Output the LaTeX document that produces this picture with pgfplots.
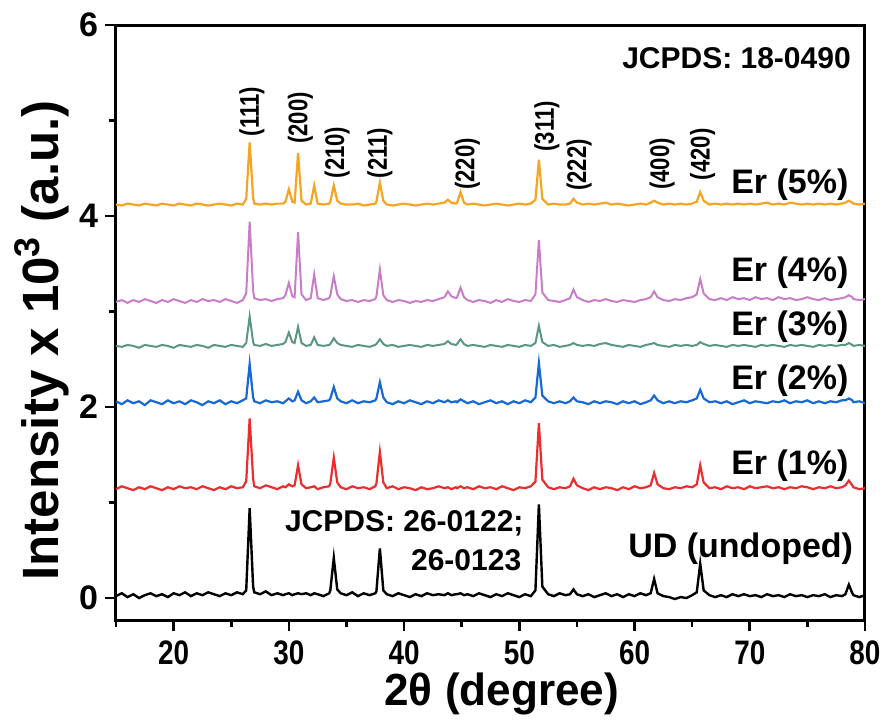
\documentclass[border=0pt]{standalone}
\usepackage{fontspec}
\setmainfont{Liberation Sans}
\newfontfamily\narrowfont{Liberation Sans}[FakeStretch=0.82]
\newfontfamily\axlabfont{Liberation Sans}[FakeStretch=0.98]
\usepackage{pgfplots}
\usepackage{pgfplotstable}
\pgfplotsset{compat=1.18}
\definecolor{cUD}{RGB}{0,0,0}
\definecolor{cEa}{RGB}{235,45,45}
\definecolor{cEb}{RGB}{25,105,210}
\definecolor{cEc}{RGB}{90,150,130}
\definecolor{cEd}{RGB}{200,125,200}
\definecolor{cEe}{RGB}{245,165,35}
\pgfplotstableread{
x ud e1 e2 e3 e4 e5
15.0 0.02 1.14 2.06 2.64 3.10 4.12
15.5 0.05 1.17 2.03 2.63 3.12 4.11
16.0 0.01 1.15 2.07 2.65 3.09 4.13
16.5 0.04 1.13 2.04 2.64 3.12 4.12
17.0 0.00 1.16 2.06 2.62 3.10 4.11
17.5 0.03 1.14 2.02 2.65 3.13 4.13
18.0 0.05 1.17 2.07 2.64 3.11 4.12
18.5 0.02 1.15 2.05 2.63 3.09 4.11
19.0 0.04 1.13 2.03 2.65 3.12 4.13
19.5 0.01 1.16 2.07 2.64 3.10 4.12
20.0 0.05 1.14 2.04 2.62 3.13 4.11
20.5 0.03 1.17 2.06 2.65 3.11 4.13
21.0 0.06 1.15 2.03 2.64 3.09 4.12
21.5 0.02 1.16 2.07 2.63 3.12 4.11
22.0 0.05 1.14 2.05 2.65 3.10 4.13
22.5 0.03 1.17 2.02 2.64 3.13 4.12
23.0 0.06 1.15 2.06 2.62 3.11 4.11
23.5 0.04 1.13 2.04 2.65 3.12 4.12
24.0 0.02 1.16 2.07 2.64 3.10 4.13
24.5 0.05 1.14 2.03 2.63 3.13 4.12
25.0 0.03 1.17 2.06 2.65 3.11 4.11
25.5 0.06 1.15 2.04 2.64 3.09 4.13
26.0 0.04 1.16 2.07 2.63 3.12 4.12
26.3 0.08 1.22 2.09 2.67 3.19 4.18
26.6 0.94 1.88 2.45 2.95 3.94 4.77
26.9 0.12 1.25 2.10 2.68 3.22 4.19
27.0 0.06 1.17 2.06 2.65 3.14 4.13
27.5 0.04 1.15 2.04 2.64 3.12 4.12
28.0 0.07 1.18 2.07 2.66 3.13 4.13
28.5 0.03 1.16 2.05 2.64 3.11 4.12
29.0 0.05 1.14 2.06 2.65 3.13 4.13
29.5 0.03 1.17 2.04 2.66 3.14 4.13
29.7 0.04 1.16 2.06 2.68 3.17 4.15
30.0 0.05 1.19 2.09 2.78 3.30 4.28
30.3 0.03 1.17 2.06 2.68 3.16 4.15
30.5 0.04 1.18 2.07 2.67 3.15 4.14
30.8 0.05 1.39 2.16 2.84 3.83 4.66
31.1 0.04 1.19 2.07 2.67 3.18 4.16
31.5 0.05 1.15 2.04 2.64 3.12 4.12
31.9 0.03 1.16 2.06 2.65 3.14 4.13
32.2 0.05 1.17 2.10 2.73 3.39 4.32
32.5 0.04 1.14 2.05 2.65 3.14 4.13
33.0 0.02 1.16 2.06 2.64 3.12 4.12
33.5 0.05 1.17 2.07 2.65 3.14 4.13
33.6 0.08 1.20 2.09 2.66 3.17 4.15
33.9 0.42 1.47 2.21 2.72 3.37 4.32
34.2 0.09 1.21 2.09 2.67 3.18 4.16
34.5 0.05 1.16 2.06 2.65 3.13 4.13
35.0 0.03 1.14 2.04 2.64 3.11 4.12
35.5 0.06 1.17 2.07 2.63 3.12 4.12
36.0 0.02 1.15 2.04 2.65 3.10 4.13
36.5 0.05 1.16 2.06 2.64 3.12 4.11
37.0 0.03 1.14 2.05 2.63 3.11 4.12
37.5 0.05 1.17 2.07 2.65 3.13 4.13
37.6 0.07 1.20 2.09 2.66 3.16 4.15
37.9 0.52 1.53 2.26 2.71 3.44 4.35
38.2 0.08 1.21 2.10 2.66 3.17 4.16
38.5 0.04 1.15 2.05 2.64 3.12 4.12
39.0 0.02 1.17 2.03 2.65 3.10 4.11
39.5 0.05 1.14 2.06 2.63 3.12 4.12
40.0 0.03 1.16 2.04 2.64 3.11 4.13
40.5 0.01 1.15 2.07 2.65 3.09 4.12
41.0 0.04 1.13 2.05 2.64 3.11 4.11
41.5 0.02 1.16 2.03 2.63 3.10 4.12
42.0 0.05 1.14 2.06 2.65 3.12 4.13
42.5 0.03 1.15 2.04 2.64 3.11 4.12
43.0 0.04 1.17 2.07 2.65 3.13 4.13
43.5 0.03 1.15 2.05 2.66 3.15 4.14
43.8 0.05 1.16 2.07 2.69 3.21 4.17
44.1 0.03 1.14 2.05 2.66 3.16 4.14
44.5 0.04 1.16 2.06 2.65 3.14 4.13
44.6 0.04 1.15 2.05 2.66 3.15 4.14
44.9 0.05 1.17 2.08 2.71 3.25 4.25
45.2 0.03 1.15 2.06 2.66 3.15 4.14
45.5 0.04 1.16 2.04 2.64 3.12 4.12
46.0 0.02 1.14 2.06 2.65 3.10 4.13
46.5 0.05 1.17 2.03 2.64 3.12 4.12
47.0 0.03 1.15 2.05 2.63 3.11 4.11
47.5 0.01 1.16 2.07 2.65 3.09 4.12
48.0 0.04 1.14 2.04 2.64 3.12 4.13
48.5 0.02 1.17 2.06 2.63 3.10 4.12
49.0 0.05 1.15 2.03 2.65 3.13 4.11
49.5 0.03 1.13 2.06 2.64 3.11 4.12
50.0 0.01 1.16 2.04 2.63 3.10 4.13
50.5 0.04 1.15 2.07 2.65 3.12 4.12
51.0 0.02 1.17 2.05 2.64 3.11 4.13
51.4 0.08 1.22 2.10 2.67 3.18 4.17
51.7 0.98 1.83 2.46 2.85 3.75 4.59
52.0 0.12 1.24 2.12 2.68 3.20 4.18
52.5 0.04 1.16 2.06 2.64 3.12 4.12
53.0 0.02 1.14 2.04 2.65 3.11 4.13
53.5 0.05 1.16 2.06 2.63 3.10 4.12
54.0 0.03 1.15 2.04 2.64 3.12 4.12
54.4 0.04 1.17 2.06 2.65 3.14 4.13
54.7 0.09 1.25 2.10 2.67 3.23 4.18
55.0 0.04 1.18 2.06 2.65 3.15 4.14
55.5 0.02 1.15 2.05 2.64 3.12 4.12
56.0 0.04 1.13 2.03 2.65 3.10 4.13
56.5 0.01 1.16 2.06 2.64 3.12 4.12
57.0 0.03 1.14 2.04 2.66 3.11 4.13
57.5 0.05 1.16 2.06 2.67 3.13 4.14
58.0 0.02 1.15 2.05 2.65 3.11 4.12
58.5 0.04 1.13 2.03 2.64 3.10 4.13
59.0 0.01 1.16 2.06 2.63 3.12 4.12
59.5 0.04 1.14 2.04 2.65 3.11 4.11
60.0 0.02 1.17 2.06 2.64 3.10 4.12
60.5 0.05 1.15 2.03 2.63 3.12 4.13
61.0 0.03 1.16 2.05 2.65 3.13 4.12
61.4 0.05 1.18 2.07 2.66 3.15 4.14
61.7 0.20 1.31 2.12 2.67 3.21 4.16
62.0 0.05 1.19 2.07 2.65 3.15 4.14
62.5 0.02 1.15 2.04 2.64 3.12 4.12
63.0 0.01 1.14 2.06 2.63 3.11 4.13
63.5 -0.01 1.16 2.04 2.65 3.13 4.12
64.0 0.01 1.15 2.06 2.64 3.12 4.13
64.5 0.00 1.17 2.05 2.65 3.14 4.12
65.0 0.03 1.16 2.07 2.64 3.15 4.13
65.4 0.06 1.19 2.09 2.65 3.18 4.15
65.7 0.36 1.39 2.18 2.68 3.34 4.25
66.0 0.08 1.21 2.09 2.66 3.19 4.16
66.5 0.03 1.15 2.05 2.64 3.13 4.12
67.0 0.01 1.16 2.06 2.65 3.12 4.13
67.5 0.03 1.14 2.04 2.64 3.14 4.12
68.0 0.01 1.17 2.06 2.63 3.12 4.13
68.5 0.04 1.15 2.03 2.65 3.15 4.12
69.0 0.02 1.16 2.05 2.64 3.13 4.13
69.5 0.04 1.14 2.07 2.65 3.14 4.12
70.0 0.02 1.17 2.04 2.64 3.12 4.13
70.5 0.03 1.15 2.06 2.63 3.15 4.12
71.0 0.01 1.16 2.05 2.65 3.13 4.13
71.5 0.04 1.17 2.04 2.64 3.14 4.14
72.0 0.02 1.15 2.06 2.65 3.12 4.12
72.5 0.03 1.16 2.05 2.64 3.15 4.13
73.0 0.01 1.14 2.07 2.63 3.13 4.12
73.5 0.04 1.16 2.04 2.65 3.14 4.14
74.0 0.02 1.15 2.06 2.64 3.12 4.13
74.5 0.03 1.17 2.05 2.65 3.13 4.12
75.0 0.01 1.16 2.07 2.64 3.15 4.13
75.5 0.03 1.14 2.04 2.63 3.13 4.12
76.0 0.02 1.16 2.06 2.65 3.12 4.13
76.5 0.04 1.15 2.04 2.64 3.14 4.12
77.0 0.01 1.17 2.06 2.65 3.12 4.13
77.5 0.03 1.15 2.05 2.64 3.13 4.12
78.0 0.02 1.16 2.07 2.65 3.14 4.13
78.3 0.04 1.18 2.07 2.65 3.15 4.14
78.6 0.14 1.23 2.09 2.67 3.17 4.16
78.9 0.05 1.18 2.07 2.65 3.15 4.14
79.0 0.03 1.16 2.05 2.64 3.13 4.13
79.5 0.01 1.14 2.06 2.65 3.12 4.12
80.0 0.03 1.15 2.04 2.64 3.13 4.13
}\xrd
\newcommand{\fs}[1]{\fontsize{#1}{#1}\selectfont\bfseries}
\begin{document}
\begin{tikzpicture}
\path[use as bounding box] (-58pt,-52pt) rectangle (386pt,310pt);
\begin{axis}[
  at={(0pt,0pt)}, anchor=south west,
  scale only axis, width=374.5pt, height=297.5pt,
  xmin=15, xmax=80, ymin=-0.23, ymax=6,
  xtick={20,30,...,80}, minor xtick={15,25,...,75},
  ytick={0,2,4,6}, minor ytick={1,3,5},
  xtick pos=bottom, ytick pos=left,
  xtick align=outside, ytick align=outside,
  major tick length=5.5pt, minor tick length=3.5pt,
  tick style={line width=1.3pt, black},
  axis line style={line width=1.5pt},
  /pgf/number format/assume math mode=true,
  xticklabel style={font=\narrowfont\fs{17pt}, inner sep=0pt, yshift=-4.5pt},
  yticklabel style={font=\fs{17pt}},
  xlabel={2θ (degree)},
  xlabel style={font=\axlabfont\fs{22.5pt}, inner sep=0pt, at={(axis description cs:0.515,-0.143)}, anchor=base},
  ylabel={Intensity x 10\textsuperscript{3} (a.u.)},
  ylabel style={font=\fs{25.5pt}, inner sep=0pt, at={(axis description cs:-0.0774,0.47)}, anchor=base},
]
\addplot[cUD, line width=1.2pt] table[x=x,y=ud]{\xrd};
\addplot[cEa, line width=1.1pt] table[x=x,y=e1]{\xrd};
\addplot[cEb, line width=1.1pt] table[x=x,y=e2]{\xrd};
\addplot[cEc, line width=1pt] table[x=x,y=e3]{\xrd};
\addplot[cEd, line width=1pt] table[x=x,y=e4]{\xrd};
\addplot[cEe, line width=1.1pt] table[x=x,y=e5]{\xrd};
\node[anchor=east, font=\fs{17pt}, inner sep=0pt] at (axis cs:78.6,4.33) {Er (5\%)};
\node[anchor=east, font=\fs{17pt}, inner sep=0pt] at (axis cs:78.6,3.41) {Er (4\%)};
\node[anchor=east, font=\fs{17pt}, inner sep=0pt] at (axis cs:78.6,2.84) {Er (3\%)};
\node[anchor=east, font=\fs{17pt}, inner sep=0pt] at (axis cs:78.6,2.28) {Er (2\%)};
\node[anchor=east, font=\fs{17pt}, inner sep=0pt] at (axis cs:78.6,1.39) {Er (1\%)};
\node[anchor=east, font=\fs{17pt}, inner sep=0pt] at (axis cs:79.0,0.52) {UD (undoped)};
\node[anchor=east, font=\fs{15pt}, inner sep=0pt] at (axis cs:78.8,5.65) {JCPDS: 18-0490};
\node[anchor=east, font=\fs{15pt}, inner sep=0pt] at (axis cs:50.4,0.78) {JCPDS: 26-0122;};
\node[anchor=east, font=\fs{15pt}, inner sep=0pt] at (axis cs:50.2,0.40) {26-0123};
\node[rotate=90, anchor=west, font=\narrowfont\fs{13.5pt}, inner sep=0pt] at (axis cs:26.8,4.83) {(111)};
\node[rotate=90, anchor=west, font=\narrowfont\fs{13.5pt}, inner sep=0pt] at (axis cs:31.0,4.75) {(200)};
\node[rotate=90, anchor=west, font=\narrowfont\fs{13.5pt}, inner sep=0pt] at (axis cs:34.2,4.39) {(210)};
\node[rotate=90, anchor=west, font=\narrowfont\fs{13.5pt}, inner sep=0pt] at (axis cs:37.9,4.39) {(211)};
\node[rotate=90, anchor=west, font=\narrowfont\fs{13.5pt}, inner sep=0pt] at (axis cs:45.5,4.27) {(220)};
\node[rotate=90, anchor=west, font=\narrowfont\fs{13.5pt}, inner sep=0pt] at (axis cs:52.4,4.67) {(311)};
\node[rotate=90, anchor=west, font=\narrowfont\fs{13.5pt}, inner sep=0pt] at (axis cs:55.2,4.26) {(222)};
\node[rotate=90, anchor=west, font=\narrowfont\fs{13.5pt}, inner sep=0pt] at (axis cs:62.4,4.27) {(400)};
\node[rotate=90, anchor=west, font=\narrowfont\fs{13.5pt}, inner sep=0pt] at (axis cs:65.9,4.37) {(420)};
\end{axis}
\end{tikzpicture}
\end{document}
